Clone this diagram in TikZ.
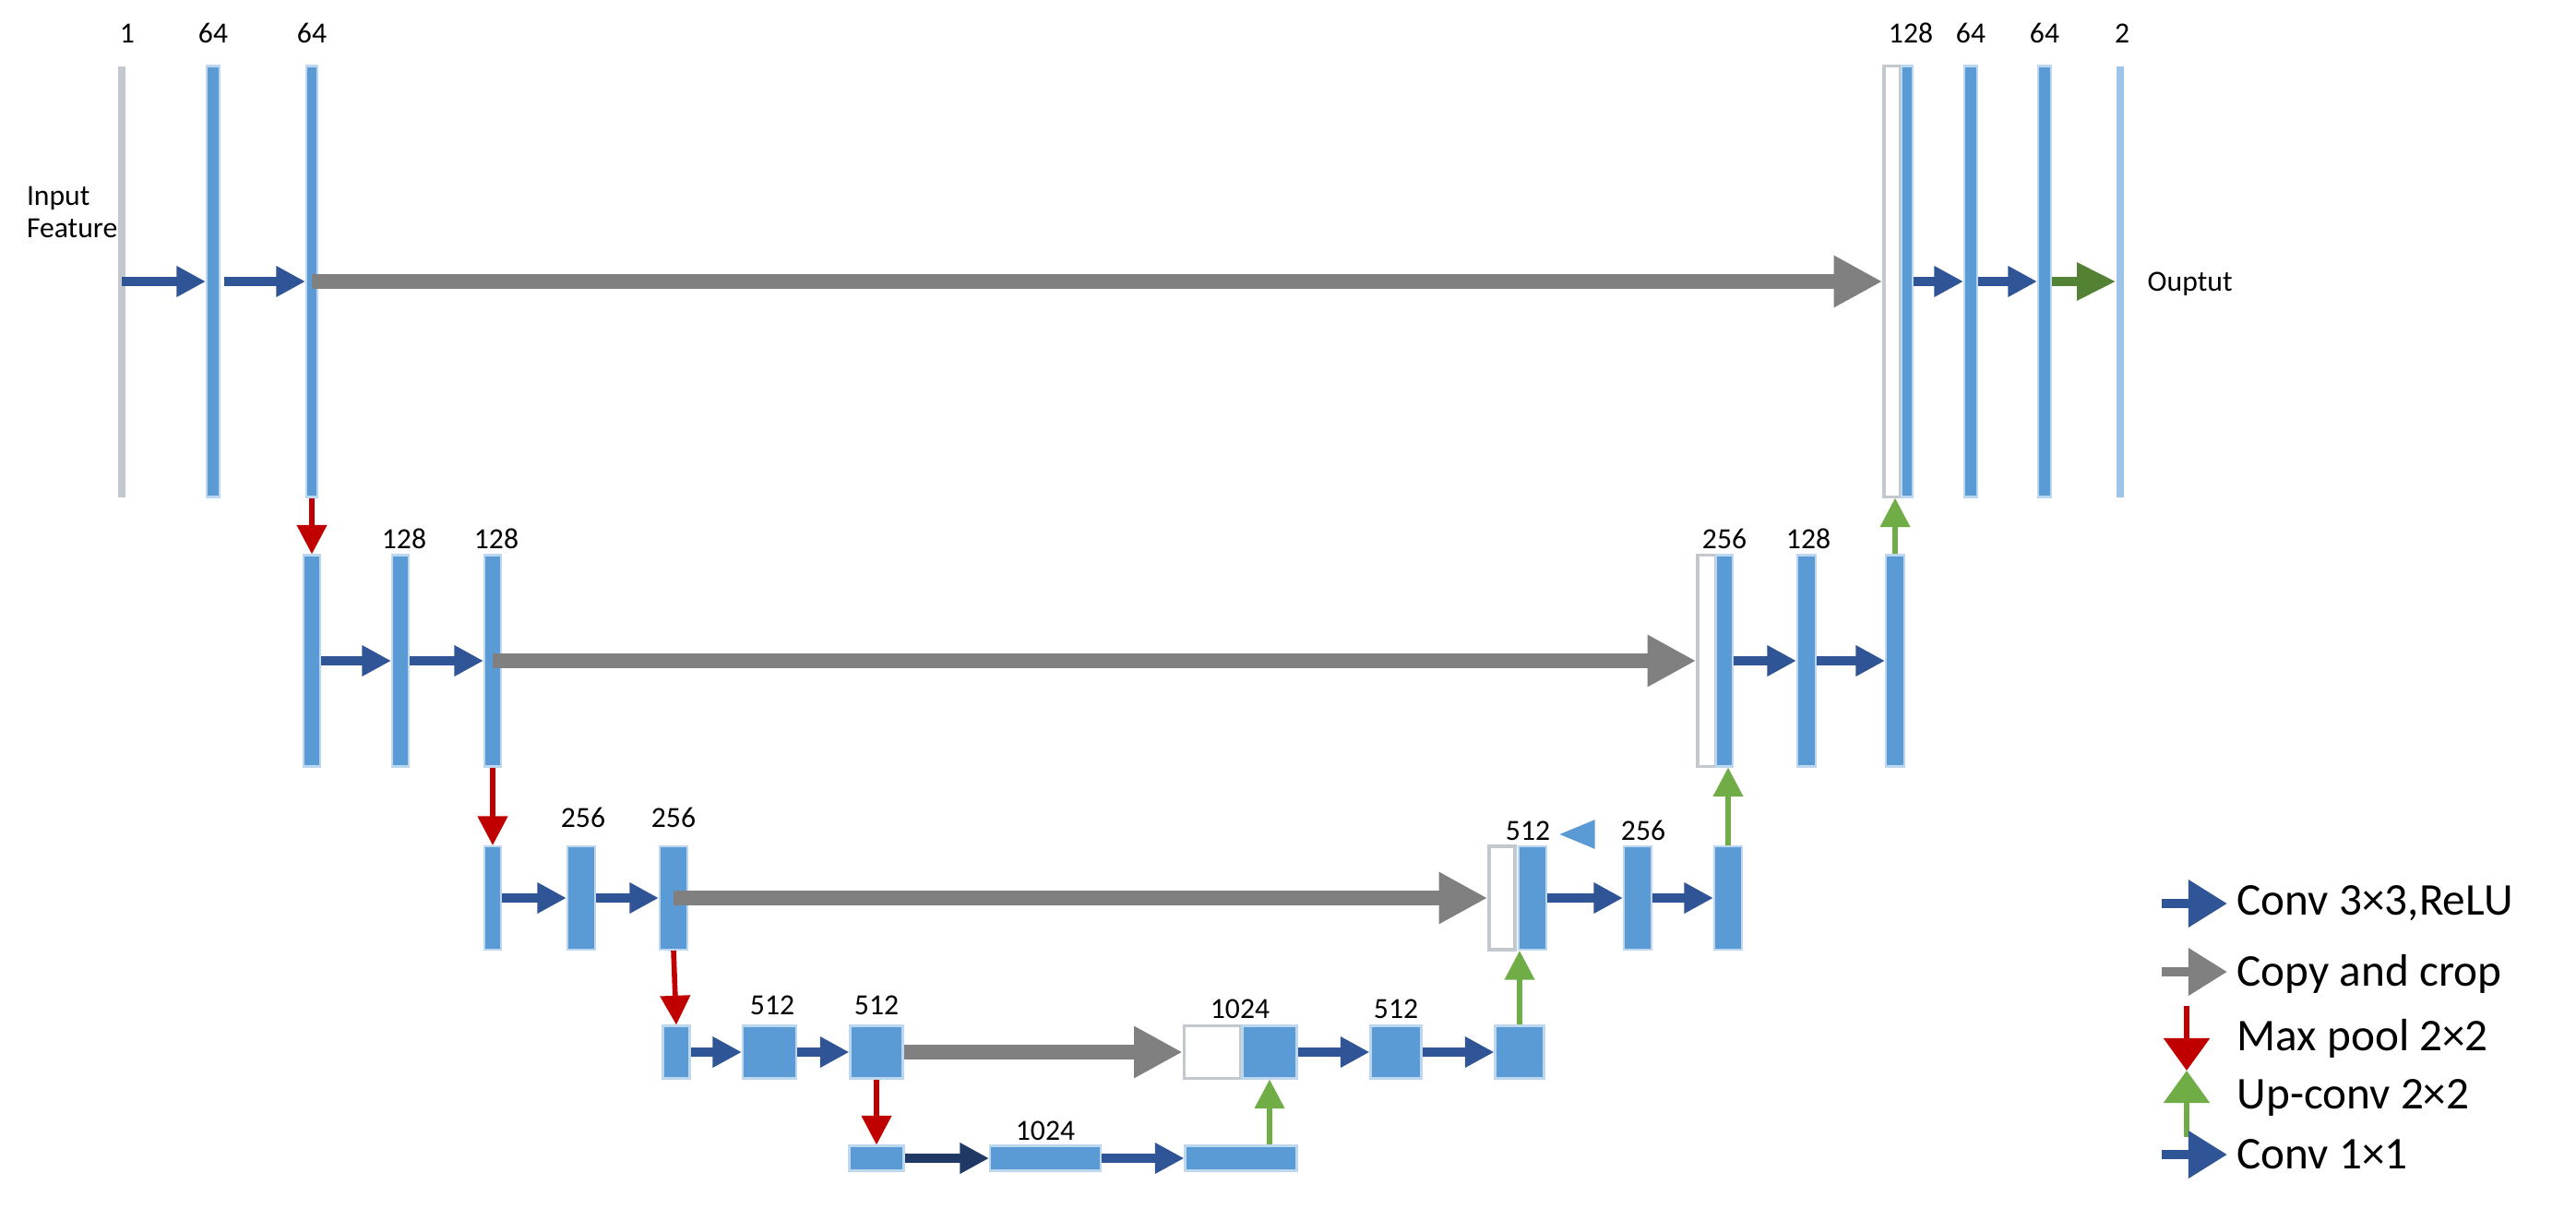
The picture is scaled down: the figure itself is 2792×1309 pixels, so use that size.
\documentclass[tikz,border=0pt]{standalone}
\usepackage{fontspec}
\setmainfont{Carlito}
\usetikzlibrary{arrows.meta,shapes.geometric}
\definecolor{barblue}{HTML}{5B9BD5}
\definecolor{arblue}{HTML}{2F5597}
\definecolor{navy}{HTML}{1F3864}
\definecolor{cgray}{HTML}{808080}
\definecolor{cred}{HTML}{C00000}
\definecolor{cgreen}{HTML}{70AD47}
\definecolor{dgreen}{HTML}{548235}
\definecolor{thin}{HTML}{C3C8CF}
\tikzset{
 blk/.style={rectangle,fill=barblue,inner sep=0pt,draw=barblue!40,line width=0.6pt},
 thinblk/.style={rectangle,fill=thin,inner sep=0pt},
 wblk/.style={rectangle,fill=white,draw=thin,line width=1pt,inner sep=0pt},
 conv/.style={draw=arblue,line width=2.8pt,-{Triangle[length=9pt,width=9pt]}},
 copyar/.style={draw=cgray,line width=4.5pt,-{Triangle[length=15pt,width=15pt]}},
 pool/.style={draw=cred,line width=1.6pt,-{Triangle[length=9pt,width=9pt]}},
 upar/.style={draw=cgreen,line width=1.6pt,-{Triangle[length=9pt,width=9pt]}},
 lbl/.style={font=\fontsize{9}{10}\selectfont,inner sep=0pt},
 leg/.style={font=\fontsize{14}{16}\selectfont,anchor=west,inner sep=0pt}
}
\newcommand\blk[6][blk]{\node[#1,minimum width=#5*0.01cm,minimum height=#6*0.01cm] (#2) at (#3,#4) {};}
\begin{document}
\begin{tikzpicture}[x=0.01cm,y=-0.01cm]
\useasboundingbox (0,0) rectangle (2792,1309);
% level 1
\blk[thinblk]{A1}{132}{305}{8}{467}
\blk{A2}{231}{305}{14}{467}
\blk{A3}{338}{305}{12}{467}
\blk[wblk]{A4w}{2051}{305}{18}{467}
\blk{A4}{2067}{305}{12}{467}
\blk{A5}{2136}{305}{14}{467}
\blk{A6}{2216}{305}{14}{467}
\blk[thinblk,fill=barblue!60]{A7}{2298}{305}{8}{467}
\node[lbl] (tA1) at (138,36) {1};
\node[lbl] (tA2) at (231,36) {64};
\node[lbl] (tA3) at (338,36) {64};
\node[lbl] (tA4) at (2071,36) {128};
\node[lbl] (tA5) at (2136,36) {64};
\node[lbl] (tA6) at (2216,36) {64};
\node[lbl] (tA7) at (2300,36) {2};
\node[lbl,align=left,anchor=east] (tin) at (128,230) {Input\\Feature};
\node[lbl,anchor=west] (tout) at (2327,308) {Ouptut};
\draw[conv] (A1.center) -- (A2.west);
\draw[conv] ([xshift=-88*0.01cm]A3.west) -- (A3.west);
\draw[copyar] (A3.center) -- (A4w.west);
\draw[conv] (A4.east) -- (A5.west);
\draw[conv] (A5.east) -- (A6.west);
\draw[draw=dgreen,line width=2.8pt,-{Triangle[length=12pt,width=11pt]}] (A6.east) -- (A7.west);
% level 2
\blk{B1}{338}{716}{18}{229}
\blk{B2}{434}{716}{18}{229}
\blk{B3}{534}{716}{18}{229}
\blk[wblk]{B4w}{1850}{716}{20}{229}
\blk{B4}{1869}{716}{18}{229}
\blk{B5}{1958}{716}{20}{229}
\blk{B6}{2054}{716}{20}{229}
\node[lbl] (tB2) at (438,584) {128};
\node[lbl] (tB3) at (538,584) {128};
\node[lbl] (tB4) at (1869,584) {256};
\node[lbl] (tB5) at (1960,584) {128};
\draw[conv] (B1.east) -- (B2.west);
\draw[conv] (B2.east) -- (B3.west);
\draw[copyar] (B3.center) -- (B4w.west);
\draw[conv] (B4.east) -- (B5.west);
\draw[conv] (B5.east) -- (B6.west);
\draw[pool] (A3.south) -- (B1.north);
\draw[upar] (B6.north) -- (B6.north |- A4.south);
% level 3
\blk{C1}{534}{973}{18}{112}
\blk{C2}{630}{973}{30}{112}
\blk{C3}{730}{973}{30}{112}
\blk[wblk]{C4w}{1628}{973}{28}{112}
\blk{C4}{1661}{973}{30}{112}
\blk{C5}{1775}{973}{30}{112}
\blk{C6}{1873}{973}{30}{112}
\node[lbl] (tC2) at (632,886) {256};
\node[lbl] (tC3) at (730,886) {256};
\node[lbl] (tC4) at (1656,900) {512};
\node[lbl] (tC5) at (1781,900) {256};
\node[fill=barblue,isosceles triangle,shape border rotate=180,inner sep=0pt,minimum height=8pt,minimum width=9pt] (tri) at (1718,904) {};
\draw[conv] (C1.east) -- (C2.west);
\draw[conv] (C2.east) -- (C3.west);
\draw[copyar] (C3.center) -- (C4w.west);
\draw[conv] (C4.east) -- (C5.west);
\draw[conv] (C5.east) -- (C6.west);
\draw[pool] (B3.south) -- (C1.north);
\draw[upar] (C6.north) -- (C6.north |- B4.south);
% level 4
\blk{D1}{733}{1140}{29}{57}
\blk{D2}{834}{1140}{58}{57}
\blk{D3}{950}{1140}{57}{57}
\blk[wblk]{D4w}{1314}{1140}{61}{57}
\blk{D4}{1376}{1140}{59}{57}
\blk{D5}{1513}{1140}{55}{57}
\blk{D6}{1647}{1140}{53}{57}
\node[lbl] (tD2) at (837,1089) {512};
\node[lbl] (tD3) at (950,1089) {512};
\node[lbl] (tD4) at (1344,1093) {1024};
\node[lbl] (tD5) at (1513,1093) {512};
\draw[conv] (D1.east) -- (D2.west);
\draw[conv] (D2.east) -- (D3.west);
\draw[copyar] (D3.east) -- (D4w.west);
\draw[conv] (D4.east) -- (D5.west);
\draw[conv] (D5.east) -- (D6.west);
\draw[pool] (C3.south) -- (D1.north);
\draw[upar] (D6.north) -- (D6.north |- C4.south);
% level 5
\blk{E1}{950}{1255}{59}{27}
\blk{E2}{1133}{1255}{120}{27}
\blk{E3}{1345}{1255}{121}{27}
\node[lbl] (tE2) at (1133,1225) {1024};
\draw[conv,draw=navy] (E1.east) -- (E2.west);
\draw[conv] (E2.east) -- (E3.west);
\draw[pool] (D3.south) -- (E1.north);
\draw[upar] (D4.south |- E3.north) -- (D4.south);
% legend
\coordinate (L1a) at (2343,979); \coordinate (L1b) at (2414,979);
\coordinate (L2a) at (2343,1053); \coordinate (L2b) at (2414,1053);
\coordinate (L3a) at (2370,1090); \coordinate (L3b) at (2370,1160);
\coordinate (L4a) at (2370,1232); \coordinate (L4b) at (2370,1160);
\coordinate (L5a) at (2343,1251); \coordinate (L5b) at (2414,1251);
\draw[conv,-{Triangle[length=12pt,width=14pt]}] (L1a) -- (L1b);
\draw[draw=cgray,line width=2.8pt,-{Triangle[length=12pt,width=14pt]}] (L2a) -- (L2b);
\draw[pool,-{Triangle[length=10pt,width=14pt]}] (L3a) -- (L3b);
\draw[upar,-{Triangle[length=10pt,width=14pt]}] (L4a) -- (L4b);
\draw[conv,-{Triangle[length=12pt,width=14pt]}] (L5a) -- (L5b);
\node[leg] (g1) at (2424,979) {Conv 3×3,ReLU};
\node[leg] (g2) at (2424,1055) {Copy and crop};
\node[leg] (g3) at (2424,1125) {Max pool 2×2};
\node[leg] (g4) at (2424,1189) {Up-conv 2×2};
\node[leg] (g5) at (2424,1251) {Conv 1×1};
\end{tikzpicture}
\end{document}
